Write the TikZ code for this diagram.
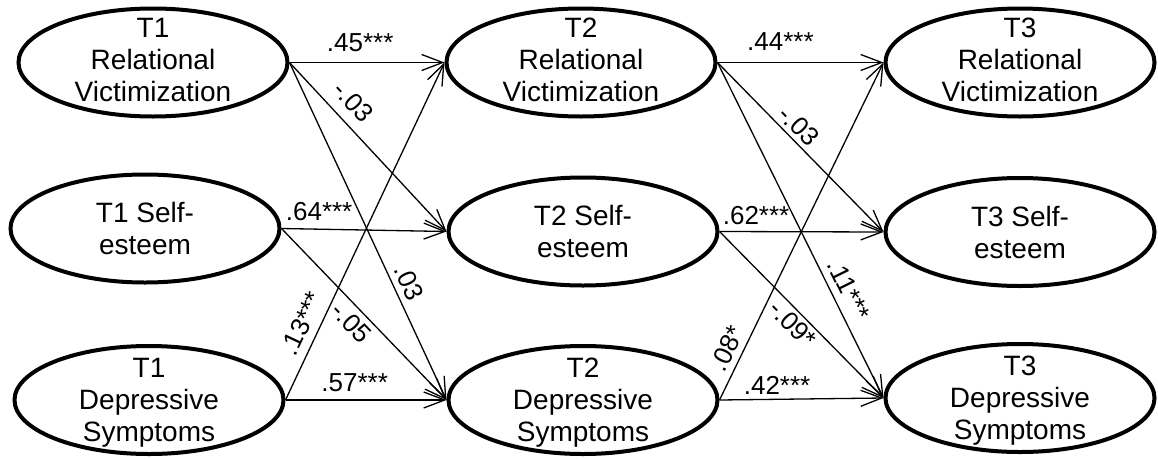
\documentclass[tikz,border=0pt]{standalone}
\usepackage{fontspec}
\setmainfont{Liberation Sans}
\usetikzlibrary{shapes.geometric, arrows.meta}

\begin{document}
\begin{tikzpicture}[x=1pt, y=-1pt,
  latent/.style={draw, ellipse, line width=4pt, minimum width=269pt,
    minimum height=108pt, inner sep=0pt},
  vartext/.style={align=center, font=\fontsize{28}{32}\selectfont,
    inner sep=0pt, text depth=0pt},
  effect/.style={line width=1.3pt,
    -{Straight Barb[length=21pt, width=16pt, line width=1.3pt]}},
  coef/.style={font=\fontsize{26}{30}\selectfont},
]
\useasboundingbox (0,0) rectangle (1158,458);

% Wave 1
\node[latent] (t1rv) at (153,62.5) {};
\node[latent] (t1se) at (145,228.5) {};
\node[latent] (t1ds) at (149,400) {};
% Wave 2
\node[latent] (t2rv) at (581,62.5) {};
\node[latent] (t2se) at (583,231.5) {};
\node[latent] (t2ds) at (583,400) {};
% Wave 3
\node[latent] (t3rv) at (1020,62.5) {};
\node[latent] (t3se) at (1020,232) {};
\node[latent] (t3ds) at (1020,398) {};

% Variable names
\node[vartext] (t1rvtxt) at ([yshift=3pt]t1rv.center) {T1\\Relational\\Victimization};
\node[vartext] (t1setxt) at (t1se.center) {T1 Self-\\esteem};
\node[vartext] (t1dstxt) at (t1ds.center) {T1\\Depressive\\Symptoms};
\node[vartext] (t2rvtxt) at ([yshift=3pt]t2rv.center) {T2\\Relational\\Victimization};
\node[vartext] (t2setxt) at (t2se.center) {T2 Self-\\esteem};
\node[vartext] (t2dstxt) at (t2ds.center) {T2\\Depressive\\Symptoms};
\node[vartext] (t3rvtxt) at ([yshift=3pt]t3rv.center) {T3\\Relational\\Victimization};
\node[vartext] (t3setxt) at (t3se.center) {T3 Self-\\esteem};
\node[vartext] (t3dstxt) at (t3ds.center) {T3\\Depressive\\Symptoms};

% Paths from wave 1 to wave 2
\draw[effect] (t1rv.east) -- node[coef, pos=0.456, above, inner sep=10pt] (p1) {.45***} (t2rv.west);
\draw[effect] (t1rv.east) -- node[coef, pos=0.313, sloped, above, inner sep=10pt] (p2) {-.03} (t2se.west);
\draw[effect] (t1rv.east) -- node[coef, pos=0.671, sloped, above, inner sep=5.5pt] (p3) {.03} (t2ds.west);
\draw[effect] (t1se.east) -- node[coef, pos=0.228, above, inner sep=8pt] (p4) {.64***} (t2se.west);
\draw[effect] (t1se.east) -- node[coef, pos=0.489, sloped, below, inner sep=5pt] (p5) {-.05} (t2ds.west);
\draw[effect] (t1ds.east) -- node[coef, pos=0.43, above, inner sep=8pt] (p6) {.57***} (t2ds.west);
\draw[effect] (t1ds.east) -- node[coef, pos=0.205, sloped, above, inner sep=8pt] (p7) {.13***} (t2rv.west);

% Paths from wave 2 to wave 3
\draw[effect] (t2rv.east) -- node[coef, pos=0.379, above, inner sep=11pt] (q1) {.44***} (t3rv.west);
\draw[effect] (t2rv.east) -- node[coef, pos=0.431, sloped, above, inner sep=4pt] (q2) {-.03} (t3se.west);
\draw[effect] (t2rv.east) -- node[coef, pos=0.70, sloped, above, inner sep=7.5pt] (q3) {.11***} (t3ds.west);
\draw[effect] (t2se.east) -- node[coef, pos=0.223, above, inner sep=6pt] (q4) {.62***} (t3se.west);
\draw[effect] (t2se.east) -- node[coef, pos=0.503, sloped, below, inner sep=3pt] (q5) {-.09*} (t3ds.west);
\draw[effect] (t2ds.east) -- node[coef, pos=0.351, above, inner sep=4.5pt] (q6) {.42***} (t3ds.west);
\draw[effect] (t2ds.east) -- node[coef, pos=0.1325, sloped, above, inner sep=6pt] (q7) {.08*} (t3rv.west);
\end{tikzpicture}
\end{document}
